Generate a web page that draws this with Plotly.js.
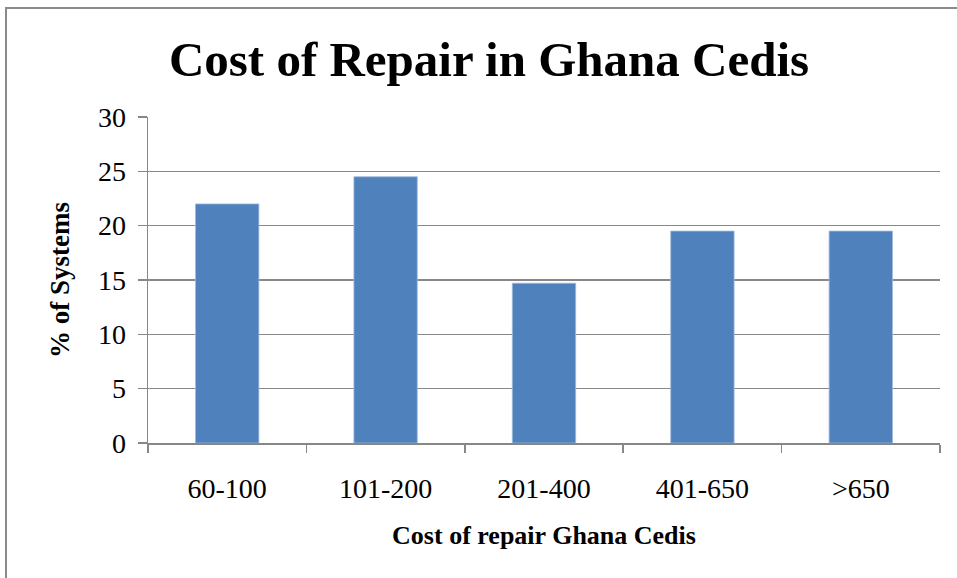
<!DOCTYPE html>
<html>
<head>
<meta charset="utf-8">
<script src="https://cdn.plot.ly/plotly-3.0.1.min.js"></script>
<style>
  html, body { margin: 0; padding: 0; background: #fff; }
  #wrap { position: relative; width: 957px; height: 578px; overflow: hidden; }
  #chart { width: 957px; height: 578px; }
  #frame { position: absolute; left: 5px; top: 7px; width: 960px; height: 600px;
           border-left: 2px solid #8a8a8a; border-top: 2px solid #8a8a8a; pointer-events: none; }
</style>
</head>
<body>
<div id="wrap">
  <div id="chart"></div>
  <div id="frame"></div>
</div>
<script>
const categories = ["60-100", "101-200", "201-400", "401-650", ">650"];
const percentSystems = [22, 24.5, 14.7, 19.5, 19.5];
const yTickValues = [0, 5, 10, 15, 20, 25, 30];

const serif = "'Liberation Serif', 'DejaVu Serif', serif";

const trace = {
  type: "bar",
  x: categories,
  y: percentSystems,
  width: 0.4,
  marker: { color: "#4F81BD", line: { color: "#9fb9dc", width: 0.8 } },
  hoverinfo: "x+y"
};

const layout = {
  width: 957,
  height: 578,
  margin: { l: 148, r: 17, t: 117, b: 135 },
  paper_bgcolor: "#ffffff",
  plot_bgcolor: "#ffffff",
  showlegend: false,
  title: {
    text: "<b>Cost of Repair in Ghana Cedis</b>",
    font: { family: serif, size: 49, color: "#000" },
    xref: "container", x: 0.511, xanchor: "center",
    yref: "container", y: 0.898, yanchor: "middle"
  },
  xaxis: {
    type: "category",
    range: [-0.5, 4.5],
    showline: true, linecolor: "#878787", linewidth: 1.5,
    ticks: "outside", tickson: "boundaries", ticklen: 8, tickcolor: "#878787", tickwidth: 1.5,
    ticklabelstandoff: 20,
    showgrid: false,
    tickfont: { family: serif, size: 28, color: "#000" },
    title: { text: "<b>Cost of repair Ghana Cedis</b>", font: { family: serif, size: 26, color: "#000" }, standoff: 22 }
  },
  yaxis: {
    range: [0, 30],
    tickvals: yTickValues,
    showline: true, linecolor: "#878787", linewidth: 1.5,
    ticks: "outside", ticklen: 9, tickcolor: "#878787", tickwidth: 1.5,
    ticklabelstandoff: 6,
    showgrid: true, gridcolor: "#888888", gridwidth: 1.4,
    zeroline: false,
    tickfont: { family: serif, size: 28, color: "#000" },
    title: { text: "<b>% of Systems</b>", font: { family: serif, size: 27, color: "#000" }, standoff: 20 }
  },
  bargap: 0.6
};

Plotly.newPlot("chart", [trace], layout, { displayModeBar: false, staticPlot: true });
</script>
</body>
</html>
